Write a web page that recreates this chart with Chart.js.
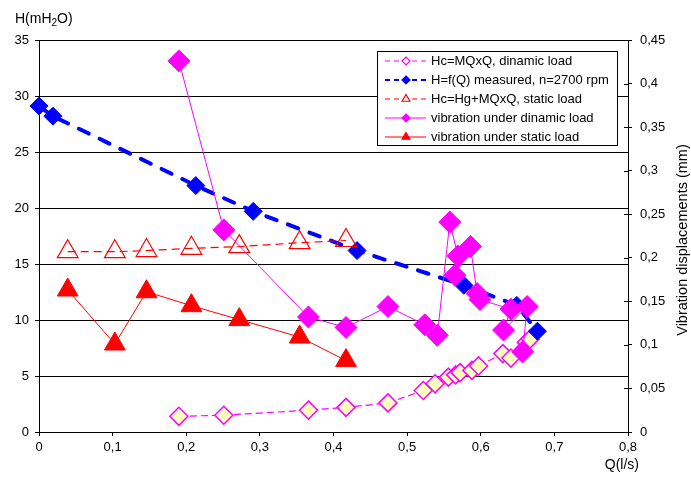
<!DOCTYPE html>
<html lang="en">
  <head>
    <meta charset="UTF-8">
    <title>pump chart</title>
    <style>
      body { margin: 0; background: #fff; }
    </style>
  </head>
  <body>
    <canvas id="myChart" width="691" height="491"></canvas>
    <script src="https://cdn.jsdelivr.net/npm/chart.js"></script>
    <script>

// H=f(Q) measured, n=2700 rpm (left axis)
const qMeasured = [0, 0.019, 0.213, 0.291, 0.432, 0.577, 0.649, 0.677];
const hMeasured = [29.1, 28.2, 22.0, 19.7, 16.2, 13.1, 11.3, 9.0];

// static load points
const qStatic = [0.039, 0.103, 0.146, 0.207, 0.272, 0.354, 0.417];
const hcStatic = [16.1, 16.1, 16.2, 16.4, 16.55, 16.9, 17.1];      // left axis
const vibStatic = [0.163, 0.101, 0.161, 0.145, 0.129, 0.109, 0.082]; // right axis

// dinamic load, Hc=MQxQ (left axis)
const qDynamic = [0.190, 0.251, 0.366, 0.417, 0.474, 0.522, 0.538, 0.556, 0.566, 0.572, 0.588, 0.597, 0.630, 0.641, 0.662, 0.667];
const hcDynamic = [1.4, 1.5, 1.95, 2.2, 2.6, 3.7, 4.3, 4.9, 5.1, 5.3, 5.5, 5.9, 7.0, 6.6, 8.0, 8.3];

// vibration under dinamic load (right axis)
const qVibDyn = [0.190, 0.251, 0.366, 0.417, 0.474, 0.524, 0.541, 0.558, 0.569, 0.565, 0.586, 0.595, 0.599, 0.641, 0.631, 0.663, 0.657];
const vibDynamic = [0.426, 0.232, 0.132, 0.120, 0.144, 0.123, 0.111, 0.241, 0.202, 0.180, 0.213, 0.159, 0.152, 0.141, 0.117, 0.144, 0.092];

const legendLabels = [
  'Hc=MQxQ, dinamic load',
  'H=f(Q) measured, n=2700 rpm',
  'Hc=Hg+MQxQ, static load',
  'vibration under dinamic load',
  'vibration under static load'
];

const FONT = '"Liberation Sans", Arial, sans-serif';
Chart.defaults.font.family = FONT;
Chart.defaults.font.size = 13;
Chart.defaults.color = '#000';

function pts(xs, ys) {
  return xs.map(function(x, i) { return {x: x, y: ys[i]}; });
}
function comma(v) {
  return String(+(+v).toFixed(2)).replace('.', ',');
}

// small marker for the legend
function marker(ctx, style, x, y, r, fill, stroke) {
  ctx.beginPath();
  if (style == 'rectRot') {
    ctx.moveTo(x, y - r); ctx.lineTo(x + r, y); ctx.lineTo(x, y + r); ctx.lineTo(x - r, y);
  } else {
    ctx.moveTo(x, y - r); ctx.lineTo(x + r * 0.87, y + r * 0.5); ctx.lineTo(x - r * 0.87, y + r * 0.5);
  }
  ctx.closePath();
  ctx.fillStyle = fill; ctx.fill();
  ctx.lineWidth = 1.2; ctx.strokeStyle = stroke; ctx.stroke();
}

const excelBits = {
  id: 'excelBits',
  afterDraw(chart) {
    const ctx = chart.ctx;
    const y1 = chart.scales.y1;
    ctx.save();

    // inner tick marks of the right axis
    ctx.strokeStyle = '#000'; ctx.lineWidth = 1;
    y1.ticks.forEach(function(t) {
      const py = Math.round(y1.getPixelForValue(t.value)) + 0.5;
      ctx.beginPath(); ctx.moveTo(y1.left - 4, py); ctx.lineTo(y1.left, py); ctx.stroke();
    });

    // axis titles
    ctx.fillStyle = '#000';
    ctx.textBaseline = 'middle';
    ctx.textAlign = 'left';
    ctx.font = '14px ' + FONT;
    let x = 15;
    ctx.fillText('H(mH', x, 19); x += ctx.measureText('H(mH').width;
    ctx.font = '10px ' + FONT;
    ctx.fillText('2', x, 23); x += ctx.measureText('2').width;
    ctx.font = '14px ' + FONT;
    ctx.fillText('O)', x, 19);

    ctx.textAlign = 'right';
    ctx.fillText('Q(l/s)', 639, 465);

    ctx.save();
    ctx.translate(683, 240);
    ctx.rotate(-Math.PI / 2);
    ctx.textAlign = 'center';
    ctx.font = '14.5px ' + FONT;
    ctx.fillText('Vibration displacements (mm)', 0, 0);
    ctx.restore();

    // legend box
    const bx = 377.5, by = 51.5, bw = 240, bh = 94;
    ctx.fillStyle = '#fff';
    ctx.fillRect(bx, by, bw, bh);
    ctx.strokeStyle = '#000'; ctx.lineWidth = 1;
    ctx.strokeRect(bx, by, bw, bh);

    const sets = chart.data.datasets;
    sets.forEach(function(ds, row) {
      const ry = 61 + row * 19;
      ctx.strokeStyle = ds.borderColor;
      ctx.lineWidth = row == 1 ? 2 : 1.2;
      ctx.setLineDash(ds.borderDash ? [5, 4] : []);
      ctx.beginPath(); ctx.moveTo(385, ry); ctx.lineTo(426, ry); ctx.stroke();
      ctx.setLineDash([]);
      const fill = (row == 0 || row == 2) ? '#fff' : ds.pointBackgroundColor;
      marker(ctx, ds.pointStyle, 406, ry, ds.pointStyle == 'triangle' ? 4.5 : 4, fill, ds.pointBorderColor);
      ctx.fillStyle = '#000';
      ctx.textAlign = 'left';
      ctx.font = '13px ' + FONT;
      ctx.fillText(legendLabels[row], 431, ry);
    });
    ctx.restore();
  }
};

const data = {
  datasets: [
    {
      label: legendLabels[0],
      data: pts(qDynamic, hcDynamic),
      yAxisID: 'y',
      showLine: true,
      borderColor: '#FF00FF',
      borderWidth: 1.2,
      borderDash: [7, 4],
      pointStyle: 'rectRot',
      pointRadius: 9,
      pointHoverRadius: 9,
      pointBackgroundColor: '#FFFFC0',
      pointBorderColor: '#FF00FF',
      pointBorderWidth: 1.5,
      order: 5,
      clip: false
    },
    {
      label: legendLabels[1],
      data: pts(qMeasured, hMeasured),
      yAxisID: 'y',
      showLine: true,
      borderColor: '#0000FF',
      borderWidth: 4,
      borderDash: [11, 12],
      borderCapStyle: 'round',
      pointStyle: 'rectRot',
      pointRadius: 9,
      pointHoverRadius: 9,
      pointBackgroundColor: '#0000FF',
      pointBorderColor: '#0000FF',
      pointBorderWidth: 1,
      order: 4,
      clip: false
    },
    {
      label: legendLabels[2],
      data: pts(qStatic, hcStatic),
      yAxisID: 'y',
      showLine: true,
      borderColor: '#FF0000',
      borderWidth: 1.2,
      borderDash: [8, 5],
      pointStyle: 'triangle',
      pointRadius: 12,
      pointHoverRadius: 12,
      pointBackgroundColor: 'rgba(0,0,0,0)',
      pointBorderColor: '#FF0000',
      pointBorderWidth: 1.2,
      order: 3,
      clip: false
    },
    {
      label: legendLabels[3],
      data: pts(qVibDyn, vibDynamic),
      yAxisID: 'y1',
      showLine: true,
      borderColor: '#FF00FF',
      borderWidth: 1,
      pointStyle: 'rectRot',
      pointRadius: 11,
      pointHoverRadius: 11,
      pointBackgroundColor: '#FF00FF',
      pointBorderColor: '#FF00FF',
      pointBorderWidth: 1,
      order: 2,
      clip: false
    },
    {
      label: legendLabels[4],
      data: pts(qStatic, vibStatic),
      yAxisID: 'y1',
      showLine: true,
      borderColor: '#FF0000',
      borderWidth: 1,
      pointStyle: 'triangle',
      pointRadius: 12,
      pointHoverRadius: 12,
      pointBackgroundColor: '#FF0000',
      pointBorderColor: '#FF0000',
      pointBorderWidth: 1,
      order: 1,
      clip: false
    }
  ]
};

const config = {
  type: 'scatter',
  data,
  options: {
    responsive: false,
    animation: false,
    layout: { padding: { top: 40 } },
    plugins: { legend: { display: false }, tooltip: { enabled: false } },
    scales: {
      x: {
        type: 'linear', min: 0, max: 0.8,
        ticks: { stepSize: 0.1, padding: 4, callback: comma },
        grid: { drawOnChartArea: false, tickLength: 4, color: '#000' },
        border: { color: '#000', width: 1 },
        afterFit(s) { s.height = 59; }
      },
      y: {
        position: 'left', min: 0, max: 35,
        ticks: { stepSize: 5, padding: 6 },
        grid: { color: '#000', lineWidth: 1, tickLength: 4 },
        border: { color: '#000', width: 1 },
        afterFit(s) { s.width = 39; }
      },
      y1: {
        position: 'right', min: 0, max: 0.45,
        ticks: { stepSize: 0.05, padding: 8, callback: comma },
        grid: { drawOnChartArea: false, tickLength: 4, color: '#000' },
        border: { color: '#000', width: 1 },
        afterFit(s) { s.width = 63; }
      }
    }
  },
  plugins: [excelBits]
};

const myChart = new Chart(document.getElementById('myChart'), config);

</script>
  </body>
</html>
